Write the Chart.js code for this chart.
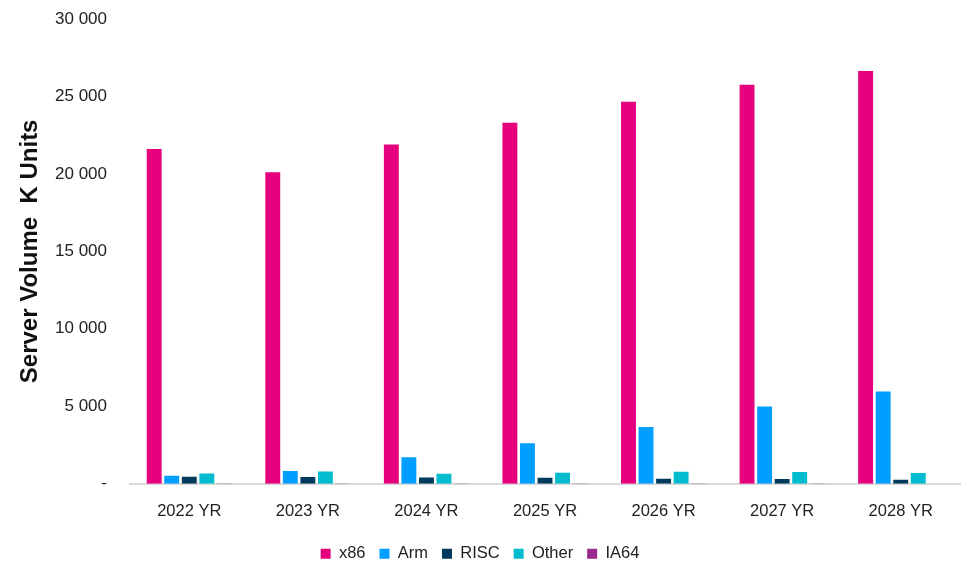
<!DOCTYPE html>
<html>
<head>
<meta charset="utf-8">
<script src="https://cdn.jsdelivr.net/npm/chart.js@4"></script>
<style>
  html, body { margin: 0; padding: 0; background: #ffffff; }
  #wrap { width: 968px; height: 564px; }
</style>
</head>
<body>
<div id="wrap"><canvas id="c" width="968" height="564"></canvas></div>
<script>
// Server shipments by processor architecture, thousands of units
const categories = ["2022 YR", "2023 YR", "2024 YR", "2025 YR", "2026 YR", "2027 YR", "2028 YR"];
const x86   = [21600, 20100, 21900, 23300, 24650, 25750, 26650];
const arm   = [510, 815, 1715, 2610, 3660, 4990, 5950];
const risc  = [450, 430, 400, 385, 320, 300, 260];
const other = [660, 790, 640, 700, 770, 750, 690];
const ia64  = [15, 12, 10, 8, 6, 5, 4];
const yTicks = [0, 5000, 10000, 15000, 20000, 25000, 30000];

const FONT = "'Liberation Sans', Arial, sans-serif";

function fmt(v) {
  if (v === 0) return "-";
  return String(v).replace(/\B(?=(\d{3})+(?!\d))/g, " ");
}

const ds = (label, data, color) => ({
  label, data, backgroundColor: color, borderWidth: 0,
  categoryPercentage: 0.74, barPercentage: 0.85
});

new Chart(document.getElementById("c"), {
  type: "bar",
  data: {
    labels: categories,
    datasets: [
      ds("x86", x86, "#E6007E"),
      ds("Arm", arm, "#009FFF"),
      ds("RISC", risc, "#003A5D"),
      ds("Other", other, "#00BCCE"),
      ds("IA64", ia64, "#9B2A8E")
    ]
  },
  options: {
    responsive: false,
    animation: false,
    layout: { padding: { top: 19, right: 8, left: 0, bottom: -8 } },
    plugins: {
      tooltip: { enabled: false },
      legend: {
        position: "bottom",
        labels: {
          font: { family: FONT, size: 16.5 },
          color: "#222222",
          boxWidth: 10, boxHeight: 10,
          padding: 14
        }
      }
    },
    scales: {
      x: {
        afterFit: (s) => { s.height -= 8; },
        grid: { display: false, drawTicks: false },
        border: { display: true, color: "#D9D9D9", width: 2 },
        ticks: { font: { family: FONT, size: 16.5 }, color: "#222222", padding: 18 }
      },
      y: {
        min: 0, max: 30000,
        afterBuildTicks: (s) => { s.ticks = yTicks.map(v => ({ value: v })); },
        afterFit: (s) => { s.width = 130; s.paddingTop = 0; s.paddingBottom = 0; },
        grid: { display: false, drawTicks: false },
        border: { display: false },
        ticks: {
          font: { family: FONT, size: 17 }, color: "#222222", padding: 23,
          callback: (v) => fmt(v)
        },
        title: {
          display: true, text: "Server Volume  K Units",
          font: { family: FONT, size: 24, weight: "bold" }, color: "#111111",
          padding: { top: 16, bottom: 0 }
        }
      }
    }
  }
});
</script>
</body>
</html>
